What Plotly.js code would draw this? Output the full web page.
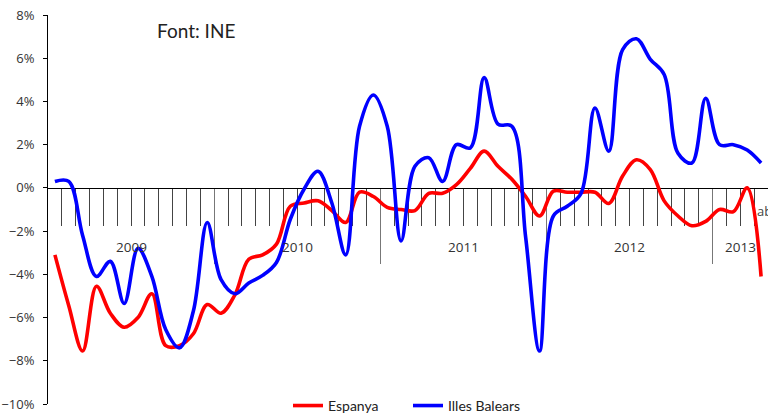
<!DOCTYPE html>
<html>
<head>
<meta charset="utf-8">
<script src="https://cdn.plot.ly/plotly-3.0.1.min.js"></script>
<style>
html,body{margin:0;padding:0;background:#fff;}
#chart{width:768px;height:413px;}
</style>
</head>
<body>
<div id="chart"></div>
<script>
const yearLabels = ['2009', '2010', '2011', '2012', '2013'];
const monthNames = ['gen', 'febr', 'març', 'abr', 'maig', 'juny', 'jul', 'ag', 'set', 'oct', 'nov', 'des'];
const monthsInLastYear = 4;

const espanya = [
  -3.1, -5.45, -7.55, -4.55, -5.8, -6.45, -6.0, -4.9, -7.3, -7.3, -6.75, -5.4,
  -5.8, -4.95, -3.3, -3.1, -2.6, -0.85, -0.7, -0.6, -1.05, -1.6, -0.2, -0.4,
  -0.9, -1.0, -1.05, -0.25, -0.25, 0.15, 0.9, 1.7, 1.0, 0.4, -0.4, -1.3,
  -0.15, -0.2, -0.2, -0.2, -0.72, 0.55, 1.3, 0.85, -0.6, -1.3, -1.75, -1.55,
  -1.0, -1.1, 0.0, -4.1
];
const illesBalears = [
  0.3, 0.3, -2.2, -4.1, -3.4, -5.35, -2.8, -4.1, -6.55, -7.4, -5.7, -1.6,
  -4.25, -4.9, -4.4, -4.05, -3.45, -1.45, -0.05, 0.77, -0.7, -3.1, 2.85, 4.3,
  2.85, -2.45, 1.0, 1.4, 0.3, 2.0, 1.85, 5.1, 2.95, 2.85, -2.3, -7.55,
  -1.3, -0.85, -0.25, 3.7, 1.7, 6.4, 6.9, 5.95, 5.25, 1.6, 1.15, 4.15,
  2.0, 2.0, 1.75, 1.15
];

// Build category table (month / year)
const categories = [];
yearLabels.forEach((y, yi) => {
  const n = (yi === yearLabels.length - 1) ? monthsInLastYear : 12;
  for (let m = 0; m < n; m++) categories.push({label: monthNames[m], year: y, yearIndex: yi});
});
const xIdx = categories.map((c, i) => i);
const N = categories.length;

// month boundaries and year boundaries
const monthBounds = [];
for (let i = 1; i < N; i++) monthBounds.push(i - 0.5);
const yearBounds = [];
for (let i = 1; i < N; i++) if (categories[i].year !== categories[i - 1].year) yearBounds.push(i - 0.5);

// year label centers
const yearAnn = yearLabels.map(y => {
  const idx = xIdx.filter(i => categories[i].year === y);
  return {
    x: (idx[0] + idx[idx.length - 1]) / 2, y: -2.75, xref: 'x', yref: 'y',
    text: y, showarrow: false, xanchor: 'center', yanchor: 'middle',
    font: {family: 'Open Sans, sans-serif', size: 13.5, color: '#333'}
  };
});

const yMin = -10, yMax = 8;
const zeroPos = (0 - yMin) / (yMax - yMin);

const traces = [
  {x: xIdx, y: espanya, name: 'Espanya', type: 'scatter', mode: 'lines',
   line: {color: '#FF0000', width: 3.6, shape: 'spline', smoothing: 1}},
  {x: xIdx, y: illesBalears, name: 'Illes Balears', type: 'scatter', mode: 'lines',
   line: {color: '#0000FF', width: 3.6, shape: 'spline', smoothing: 1}},
  {x: xIdx, y: espanya, xaxis: 'x2', type: 'scatter', mode: 'lines', showlegend: false,
   hoverinfo: 'skip', opacity: 0, line: {width: 0}}
];

const layout = {
  width: 768, height: 413,
  margin: {l: 48, r: 0, t: 15, b: 9, autoexpand: false},
  paper_bgcolor: '#fff', plot_bgcolor: '#fff',
  font: {family: 'Open Sans, sans-serif', color: '#333'},
  showlegend: true,
  legend: {orientation: 'h', x: 0.5, xanchor: 'center', y: -0.005, yanchor: 'middle',
           entrywidth: 75, entrywidthmode: 'pixels',
           font: {family: 'Lato, sans-serif', size: 14, color: '#222'}, bgcolor: 'rgba(0,0,0,0)'},
  xaxis: {
    range: [-0.5, N - 0.5], anchor: 'free', position: zeroPos,
    showline: true, linecolor: '#000', linewidth: 1,
    ticks: 'outside', ticklen: 37, tickcolor: '#444', tickwidth: 1,
    tickmode: 'array', tickvals: monthBounds, showticklabels: false,
    showgrid: false, zeroline: false, layer: 'below traces', fixedrange: true
  },
  xaxis2: {
    range: [-0.5, N - 0.5], overlaying: 'x', anchor: 'free', position: zeroPos,
    showline: false, ticks: 'outside', ticklen: 75, tickcolor: '#777', tickwidth: 1.3,
    tickmode: 'array', tickvals: yearBounds, showticklabels: false,
    showgrid: false, zeroline: false, layer: 'below traces'
  },
  yaxis: {
    range: [yMin, yMax], dtick: 2, tick0: 0, ticksuffix: '%',
    showline: true, linecolor: '#000', linewidth: 1,
    ticks: 'outside', ticklen: 4, tickcolor: '#000',
    showgrid: false, zeroline: false, ticklabelstandoff: 6,
    tickfont: {family: 'Open Sans, sans-serif', size: 13, color: '#333'}
  },
  annotations: yearAnn.concat([
    {x: N - 1, y: -1.05, xref: 'x', yref: 'y', text: categories[N - 1].label,
     showarrow: false, xanchor: 'left', xshift: -6, yanchor: 'middle',
     font: {family: 'Open Sans, sans-serif', size: 13, color: '#444'}},
    {x: 0.149, y: 0.96, xref: 'paper', yref: 'paper', text: 'Font: INE',
     showarrow: false, xanchor: 'left', yanchor: 'middle',
     font: {family: 'Lato, sans-serif', size: 19, color: '#222'}}
  ])
};

Plotly.newPlot('chart', traces, layout, {staticPlot: true, displayModeBar: false});
</script>
</body>
</html>
